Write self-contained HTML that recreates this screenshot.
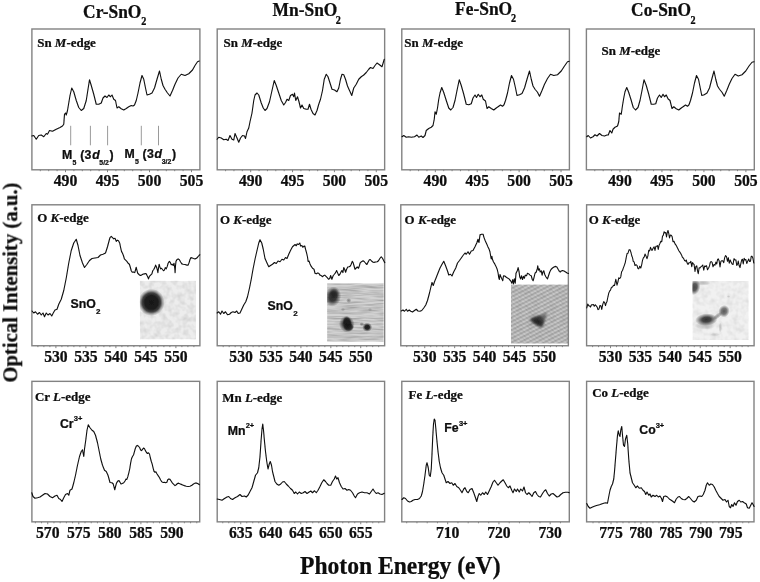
<!DOCTYPE html>
<html><head><meta charset="utf-8"><title>XAS spectra of doped SnO2</title>
<style>
html,body{margin:0;padding:0;background:#fff;}
body{width:760px;height:582px;overflow:hidden;font-family:"Liberation Serif",serif;}
svg{display:block;will-change:transform;}
text{fill:#0a0a0a;stroke:#0a0a0a;stroke-width:0.22px;}
</style></head><body>
<svg width="760" height="582" viewBox="0 0 760 582">
<defs>
<filter id="soft" x="0" y="0" width="760" height="582" filterUnits="userSpaceOnUse"><feGaussianBlur stdDeviation="0.36"/></filter>
<radialGradient id="gd"><stop offset="0" stop-color="#181818"/><stop offset="0.5" stop-color="#181818" stop-opacity="0.98"/><stop offset="0.7" stop-color="#181818" stop-opacity="0.8"/><stop offset="0.85" stop-color="#181818" stop-opacity="0.32"/><stop offset="1" stop-color="#181818" stop-opacity="0"/></radialGradient>
<radialGradient id="gm"><stop offset="0" stop-color="#222" stop-opacity="0.95"/><stop offset="0.45" stop-color="#222" stop-opacity="0.85"/><stop offset="0.75" stop-color="#222" stop-opacity="0.38"/><stop offset="1" stop-color="#222" stop-opacity="0"/></radialGradient>
<radialGradient id="gm2"><stop offset="0" stop-color="#282828" stop-opacity="0.95"/><stop offset="0.4" stop-color="#282828" stop-opacity="0.85"/><stop offset="0.7" stop-color="#282828" stop-opacity="0.42"/><stop offset="1" stop-color="#282828" stop-opacity="0"/></radialGradient>
<radialGradient id="gl"><stop offset="0" stop-color="#303030" stop-opacity="0.5"/><stop offset="0.6" stop-color="#303030" stop-opacity="0.27"/><stop offset="1" stop-color="#303030" stop-opacity="0"/></radialGradient>
<radialGradient id="gl2"><stop offset="0" stop-color="#303030" stop-opacity="0.78"/><stop offset="0.5" stop-color="#303030" stop-opacity="0.6"/><stop offset="1" stop-color="#303030" stop-opacity="0"/></radialGradient>
<filter id="b1" x="-50%" y="-50%" width="200%" height="200%"><feGaussianBlur stdDeviation="1.6"/></filter>
<filter id="b2" x="-50%" y="-50%" width="200%" height="200%"><feGaussianBlur stdDeviation="1.1"/></filter>
<filter id="b3" x="-50%" y="-50%" width="200%" height="200%"><feGaussianBlur stdDeviation="0.8"/></filter>
<filter id="nz" x="0" y="0" width="100%" height="100%">
<feTurbulence type="fractalNoise" baseFrequency="0.18" numOctaves="2" seed="3" result="t"/>
<feColorMatrix in="t" type="matrix" values="0 0 0 0 0  0 0 0 0 0  0 0 0 0 0  0.9 0 0 0 -0.32"/>
</filter>
<filter id="nzh" x="0" y="0" width="100%" height="100%">
<feTurbulence type="fractalNoise" baseFrequency="0.05 0.55" numOctaves="2" seed="5" result="t"/>
<feColorMatrix in="t" type="matrix" values="0 0 0 0 0  0 0 0 0 0  0 0 0 0 0  1.1 0 0 0 -0.38"/>
</filter>
<pattern id="diag" width="3.7" height="3.7" patternUnits="userSpaceOnUse" patternTransform="rotate(-27)">
<rect width="3.7" height="1.7" fill="#000" opacity="0.14"/>
</pattern>
<pattern id="diag2" width="3.1" height="3.1" patternUnits="userSpaceOnUse" patternTransform="rotate(38)">
<rect width="3.1" height="1.3" fill="#000" opacity="0.07"/>
</pattern>
<filter id="b4" x="-5%" y="-5%" width="110%" height="110%"><feGaussianBlur stdDeviation="0.45"/></filter>
<clipPath id="c1"><rect x="139.9" y="280.7" width="56.1" height="58.7"/></clipPath>
<clipPath id="c2"><rect x="327.1" y="283.3" width="56.6" height="58.5"/></clipPath>
<clipPath id="c3"><rect x="511" y="284.4" width="57.2" height="59.2"/></clipPath>
<clipPath id="c4"><rect x="692.4" y="281" width="56.3" height="59.1"/></clipPath>
</defs>
<rect width="760" height="582" fill="#fff"/>
<g filter="url(#soft)">
<g clip-path="url(#c1)">
<rect x="139.9" y="280.7" width="56.1" height="58.7" fill="#ededed"/>
<rect x="139.9" y="280.7" width="56.1" height="58.7" fill="#000" filter="url(#nz)" opacity="0.22"/>
<ellipse cx="151.4" cy="302.4" rx="13.2" ry="13.6" fill="url(#gd)" opacity="1"/>
</g>
<g clip-path="url(#c2)">
<rect x="327.1" y="283.3" width="56.6" height="58.5" fill="#d2d2d2"/>
<rect x="327.1" y="283.3" width="56.6" height="58.5" fill="#000" filter="url(#nzh)" opacity="0.42"/>
<ellipse cx="332.9" cy="296.6" rx="8.2" ry="10.2" fill="url(#gm)" opacity="1" transform="rotate(12 332.9 296.6)"/>
<ellipse cx="334.2" cy="293.6" rx="5" ry="5.5" fill="url(#gm)" opacity="0.7"/>
<ellipse cx="346.8" cy="324.2" rx="7.8" ry="8.4" fill="url(#gm)" opacity="1" transform="rotate(-20 346.8 324.2)"/>
<ellipse cx="347.2" cy="322.6" rx="4.6" ry="6.6" fill="url(#gd)" opacity="0.9" transform="rotate(-10 347.2 322.6)"/>
<ellipse cx="348.6" cy="327" rx="5.4" ry="4.4" fill="url(#gd)" opacity="0.8"/>
<ellipse cx="367.2" cy="327.2" rx="5" ry="4.6" fill="url(#gm)" opacity="1"/>
<ellipse cx="367.2" cy="327.2" rx="3.2" ry="3" fill="url(#gd)" opacity="0.7"/>
<ellipse cx="348.7" cy="300.5" rx="2.6" ry="2.4" fill="url(#gl)" opacity="1"/>
<ellipse cx="361.8" cy="324.2" rx="2.4" ry="2" fill="url(#gl)" opacity="1"/>
<ellipse cx="343" cy="309.5" rx="2.2" ry="2" fill="url(#gl)" opacity="0.5"/>
<ellipse cx="370" cy="309.5" rx="2.2" ry="2" fill="url(#gl)" opacity="0.4"/>
</g>
<g clip-path="url(#c3)">
<rect x="511" y="284.4" width="58" height="60" fill="#c9c9c9"/>
<g filter="url(#b4)"><rect x="503" y="276" width="73" height="75" fill="url(#diag)"/><rect x="503" y="276" width="73" height="75" fill="url(#diag2)"/></g>
<rect x="511" y="284.4" width="58" height="60" fill="#000" filter="url(#nz)" opacity="0.12"/>
<path d="M536,318 L546.8,312.2 L545.6,320 L542,322 Z" fill="#555" opacity="0.75" filter="url(#b2)"/>
<path d="M529.6,319.2 L534,316.8 L540.5,315.4 L544.2,320.5 L543.5,324.5 L541.2,327.4 L537,325.6 L532.5,322.4 Z" fill="#3c3c3c" filter="url(#b2)"/>
<path d="M532,319.8 L538,318.4 L542,322.2 L540.6,325 L535.8,323 Z" fill="#262626" filter="url(#b3)"/>
</g>
<g clip-path="url(#c4)">
<rect x="692.4" y="281" width="56.3" height="59.1" fill="#f1f1f1"/>
<rect x="692.4" y="281" width="56.3" height="59.1" fill="#000" filter="url(#nz)" opacity="0.16"/>
<ellipse cx="694.4" cy="287.2" rx="5.8" ry="8" fill="url(#gm)" opacity="0.85" transform="rotate(15 694.4 287.2)"/>
<ellipse cx="703" cy="283" rx="8" ry="2.6" fill="url(#gl)" opacity="0.55"/>
<ellipse cx="706.4" cy="319.6" rx="11.2" ry="6.2" fill="url(#gm2)" opacity="1" transform="rotate(-4 706.4 319.6)"/>
<ellipse cx="705" cy="325.6" rx="10.5" ry="4.2" fill="url(#gl)" opacity="0.55"/>
<ellipse cx="717.5" cy="316" rx="6" ry="2.4" fill="url(#gl)" opacity="0.95" transform="rotate(-38 717.5 316)"/>
<ellipse cx="724" cy="311.2" rx="5.6" ry="6.2" fill="url(#gl2)" opacity="1" transform="rotate(20 724 311.2)"/>
<ellipse cx="720.3" cy="327.5" rx="1.8" ry="5" fill="url(#gl)" opacity="0.45"/>
<ellipse cx="715" cy="334.5" rx="5" ry="1.8" fill="url(#gl)" opacity="0.3"/>
<ellipse cx="728.5" cy="296.5" rx="2" ry="1.4" fill="url(#gl)" opacity="0.35"/>
</g>
<rect x="31.9" y="29" width="168" height="140.8" fill="none" stroke="#828282" stroke-width="1.4"/>
<rect x="217.2" y="29" width="167.45" height="140.8" fill="none" stroke="#828282" stroke-width="1.4"/>
<rect x="401.8" y="29" width="167.6" height="140.8" fill="none" stroke="#828282" stroke-width="1.4"/>
<rect x="586.4" y="29" width="167.9" height="140.8" fill="none" stroke="#828282" stroke-width="1.4"/>
<rect x="31.9" y="204.8" width="168" height="140.95" fill="none" stroke="#828282" stroke-width="1.4"/>
<rect x="217.2" y="204.8" width="167.45" height="140.95" fill="none" stroke="#828282" stroke-width="1.4"/>
<rect x="400.8" y="204.8" width="167.55" height="140.95" fill="none" stroke="#828282" stroke-width="1.4"/>
<rect x="586.6" y="204.8" width="167.5" height="140.95" fill="none" stroke="#828282" stroke-width="1.4"/>
<rect x="31.9" y="381.35" width="167.8" height="140.5" fill="none" stroke="#828282" stroke-width="1.4"/>
<rect x="217.2" y="381.35" width="167.4" height="140.5" fill="none" stroke="#828282" stroke-width="1.4"/>
<rect x="401.8" y="381.35" width="167.5" height="140.5" fill="none" stroke="#828282" stroke-width="1.4"/>
<rect x="586.6" y="381.35" width="167.4" height="140.5" fill="none" stroke="#828282" stroke-width="1.4"/>
<path d="M40.3,169.8v1.4M48.7,169.8v1.4M57.1,169.8v1.4M65.5,169.8v2.4M73.9,169.8v1.4M82.3,169.8v1.4M90.7,169.8v1.4M99.1,169.8v1.4M107.5,169.8v2.4M115.9,169.8v1.4M124.3,169.8v1.4M132.7,169.8v1.4M141.1,169.8v1.4M149.5,169.8v2.4M157.9,169.8v1.4M166.3,169.8v1.4M174.7,169.8v1.4M183.1,169.8v1.4M191.5,169.8v2.4" stroke="#828282" stroke-width="1" fill="none"/>
<text transform="translate(65.5,186.4) scale(1,1.08)" text-anchor="middle" font-size="15.7" font-family="Liberation Serif, serif" font-weight="bold">490</text>
<text transform="translate(107.5,186.4) scale(1,1.08)" text-anchor="middle" font-size="15.7" font-family="Liberation Serif, serif" font-weight="bold">495</text>
<text transform="translate(149.5,186.4) scale(1,1.08)" text-anchor="middle" font-size="15.7" font-family="Liberation Serif, serif" font-weight="bold">500</text>
<text transform="translate(191.5,186.4) scale(1,1.08)" text-anchor="middle" font-size="15.7" font-family="Liberation Serif, serif" font-weight="bold">505</text>
<path d="M37.9,345.75v1.4M43.9,345.75v1.4M49.9,345.75v1.4M55.9,345.75v2.4M61.9,345.75v1.4M67.9,345.75v1.4M73.9,345.75v1.4M79.9,345.75v1.4M85.9,345.75v2.4M91.9,345.75v1.4M97.9,345.75v1.4M103.9,345.75v1.4M109.9,345.75v1.4M115.9,345.75v2.4M121.9,345.75v1.4M127.9,345.75v1.4M133.9,345.75v1.4M139.9,345.75v1.4M145.9,345.75v2.4M151.9,345.75v1.4M157.9,345.75v1.4M163.9,345.75v1.4M169.9,345.75v1.4M175.9,345.75v2.4M181.9,345.75v1.4M187.9,345.75v1.4M193.9,345.75v1.4" stroke="#828282" stroke-width="1" fill="none"/>
<text transform="translate(55.9,361.9) scale(1,1.08)" text-anchor="middle" font-size="15.7" font-family="Liberation Serif, serif" font-weight="bold">530</text>
<text transform="translate(85.9,361.9) scale(1,1.08)" text-anchor="middle" font-size="15.7" font-family="Liberation Serif, serif" font-weight="bold">535</text>
<text transform="translate(115.9,361.9) scale(1,1.08)" text-anchor="middle" font-size="15.7" font-family="Liberation Serif, serif" font-weight="bold">540</text>
<text transform="translate(145.9,361.9) scale(1,1.08)" text-anchor="middle" font-size="15.7" font-family="Liberation Serif, serif" font-weight="bold">545</text>
<text transform="translate(175.9,361.9) scale(1,1.08)" text-anchor="middle" font-size="15.7" font-family="Liberation Serif, serif" font-weight="bold">550</text>
<path d="M225.57,169.8v1.4M233.94,169.8v1.4M242.32,169.8v1.4M250.69,169.8v2.4M259.06,169.8v1.4M267.44,169.8v1.4M275.81,169.8v1.4M284.18,169.8v1.4M292.55,169.8v2.4M300.92,169.8v1.4M309.3,169.8v1.4M317.67,169.8v1.4M326.04,169.8v1.4M334.41,169.8v2.4M342.79,169.8v1.4M351.16,169.8v1.4M359.53,169.8v1.4M367.9,169.8v1.4M376.28,169.8v2.4" stroke="#828282" stroke-width="1" fill="none"/>
<text transform="translate(250.69,186.4) scale(1,1.08)" text-anchor="middle" font-size="15.7" font-family="Liberation Serif, serif" font-weight="bold">490</text>
<text transform="translate(292.55,186.4) scale(1,1.08)" text-anchor="middle" font-size="15.7" font-family="Liberation Serif, serif" font-weight="bold">495</text>
<text transform="translate(334.41,186.4) scale(1,1.08)" text-anchor="middle" font-size="15.7" font-family="Liberation Serif, serif" font-weight="bold">500</text>
<text transform="translate(376.28,186.4) scale(1,1.08)" text-anchor="middle" font-size="15.7" font-family="Liberation Serif, serif" font-weight="bold">505</text>
<path d="M223.18,345.75v1.4M229.16,345.75v1.4M235.14,345.75v1.4M241.12,345.75v2.4M247.1,345.75v1.4M253.08,345.75v1.4M259.06,345.75v1.4M265.04,345.75v1.4M271.02,345.75v2.4M277,345.75v1.4M282.98,345.75v1.4M288.96,345.75v1.4M294.94,345.75v1.4M300.92,345.75v2.4M306.91,345.75v1.4M312.89,345.75v1.4M318.87,345.75v1.4M324.85,345.75v1.4M330.83,345.75v2.4M336.81,345.75v1.4M342.79,345.75v1.4M348.77,345.75v1.4M354.75,345.75v1.4M360.73,345.75v2.4M366.71,345.75v1.4M372.69,345.75v1.4M378.67,345.75v1.4" stroke="#828282" stroke-width="1" fill="none"/>
<text transform="translate(241.12,361.9) scale(1,1.08)" text-anchor="middle" font-size="15.7" font-family="Liberation Serif, serif" font-weight="bold">530</text>
<text transform="translate(271.02,361.9) scale(1,1.08)" text-anchor="middle" font-size="15.7" font-family="Liberation Serif, serif" font-weight="bold">535</text>
<text transform="translate(300.92,361.9) scale(1,1.08)" text-anchor="middle" font-size="15.7" font-family="Liberation Serif, serif" font-weight="bold">540</text>
<text transform="translate(330.83,361.9) scale(1,1.08)" text-anchor="middle" font-size="15.7" font-family="Liberation Serif, serif" font-weight="bold">545</text>
<text transform="translate(360.73,361.9) scale(1,1.08)" text-anchor="middle" font-size="15.7" font-family="Liberation Serif, serif" font-weight="bold">550</text>
<path d="M410.18,169.8v1.4M418.56,169.8v1.4M426.94,169.8v1.4M435.32,169.8v2.4M443.7,169.8v1.4M452.08,169.8v1.4M460.46,169.8v1.4M468.84,169.8v1.4M477.22,169.8v2.4M485.6,169.8v1.4M493.98,169.8v1.4M502.36,169.8v1.4M510.74,169.8v1.4M519.12,169.8v2.4M527.5,169.8v1.4M535.88,169.8v1.4M544.26,169.8v1.4M552.64,169.8v1.4M561.02,169.8v2.4" stroke="#828282" stroke-width="1" fill="none"/>
<text transform="translate(435.32,186.4) scale(1,1.08)" text-anchor="middle" font-size="15.7" font-family="Liberation Serif, serif" font-weight="bold">490</text>
<text transform="translate(477.22,186.4) scale(1,1.08)" text-anchor="middle" font-size="15.7" font-family="Liberation Serif, serif" font-weight="bold">495</text>
<text transform="translate(519.12,186.4) scale(1,1.08)" text-anchor="middle" font-size="15.7" font-family="Liberation Serif, serif" font-weight="bold">500</text>
<text transform="translate(561.02,186.4) scale(1,1.08)" text-anchor="middle" font-size="15.7" font-family="Liberation Serif, serif" font-weight="bold">505</text>
<path d="M406.78,345.75v1.4M412.77,345.75v1.4M418.75,345.75v1.4M424.74,345.75v2.4M430.72,345.75v1.4M436.7,345.75v1.4M442.69,345.75v1.4M448.67,345.75v1.4M454.66,345.75v2.4M460.64,345.75v1.4M466.62,345.75v1.4M472.61,345.75v1.4M478.59,345.75v1.4M484.58,345.75v2.4M490.56,345.75v1.4M496.54,345.75v1.4M502.53,345.75v1.4M508.51,345.75v1.4M514.49,345.75v2.4M520.48,345.75v1.4M526.46,345.75v1.4M532.45,345.75v1.4M538.43,345.75v1.4M544.41,345.75v2.4M550.4,345.75v1.4M556.38,345.75v1.4M562.37,345.75v1.4" stroke="#828282" stroke-width="1" fill="none"/>
<text transform="translate(424.74,361.9) scale(1,1.08)" text-anchor="middle" font-size="15.7" font-family="Liberation Serif, serif" font-weight="bold">530</text>
<text transform="translate(454.66,361.9) scale(1,1.08)" text-anchor="middle" font-size="15.7" font-family="Liberation Serif, serif" font-weight="bold">535</text>
<text transform="translate(484.58,361.9) scale(1,1.08)" text-anchor="middle" font-size="15.7" font-family="Liberation Serif, serif" font-weight="bold">540</text>
<text transform="translate(514.49,361.9) scale(1,1.08)" text-anchor="middle" font-size="15.7" font-family="Liberation Serif, serif" font-weight="bold">545</text>
<text transform="translate(544.41,361.9) scale(1,1.08)" text-anchor="middle" font-size="15.7" font-family="Liberation Serif, serif" font-weight="bold">550</text>
<path d="M594.79,169.8v1.4M603.19,169.8v1.4M611.58,169.8v1.4M619.98,169.8v2.4M628.38,169.8v1.4M636.77,169.8v1.4M645.16,169.8v1.4M653.56,169.8v1.4M661.95,169.8v2.4M670.35,169.8v1.4M678.75,169.8v1.4M687.14,169.8v1.4M695.53,169.8v1.4M703.93,169.8v2.4M712.32,169.8v1.4M720.72,169.8v1.4M729.12,169.8v1.4M737.51,169.8v1.4M745.9,169.8v2.4" stroke="#828282" stroke-width="1" fill="none"/>
<text transform="translate(619.98,186.4) scale(1,1.08)" text-anchor="middle" font-size="15.7" font-family="Liberation Serif, serif" font-weight="bold">490</text>
<text transform="translate(661.95,186.4) scale(1,1.08)" text-anchor="middle" font-size="15.7" font-family="Liberation Serif, serif" font-weight="bold">495</text>
<text transform="translate(703.93,186.4) scale(1,1.08)" text-anchor="middle" font-size="15.7" font-family="Liberation Serif, serif" font-weight="bold">500</text>
<text transform="translate(745.9,186.4) scale(1,1.08)" text-anchor="middle" font-size="15.7" font-family="Liberation Serif, serif" font-weight="bold">505</text>
<path d="M592.58,345.75v1.4M598.56,345.75v1.4M604.55,345.75v1.4M610.53,345.75v2.4M616.51,345.75v1.4M622.49,345.75v1.4M628.48,345.75v1.4M634.46,345.75v1.4M640.44,345.75v2.4M646.42,345.75v1.4M652.4,345.75v1.4M658.39,345.75v1.4M664.37,345.75v1.4M670.35,345.75v2.4M676.33,345.75v1.4M682.31,345.75v1.4M688.3,345.75v1.4M694.28,345.75v1.4M700.26,345.75v2.4M706.24,345.75v1.4M712.23,345.75v1.4M718.21,345.75v1.4M724.19,345.75v1.4M730.17,345.75v2.4M736.15,345.75v1.4M742.14,345.75v1.4M748.12,345.75v1.4" stroke="#828282" stroke-width="1" fill="none"/>
<text transform="translate(610.53,361.9) scale(1,1.08)" text-anchor="middle" font-size="15.7" font-family="Liberation Serif, serif" font-weight="bold">530</text>
<text transform="translate(640.44,361.9) scale(1,1.08)" text-anchor="middle" font-size="15.7" font-family="Liberation Serif, serif" font-weight="bold">535</text>
<text transform="translate(670.35,361.9) scale(1,1.08)" text-anchor="middle" font-size="15.7" font-family="Liberation Serif, serif" font-weight="bold">540</text>
<text transform="translate(700.26,361.9) scale(1,1.08)" text-anchor="middle" font-size="15.7" font-family="Liberation Serif, serif" font-weight="bold">545</text>
<text transform="translate(730.17,361.9) scale(1,1.08)" text-anchor="middle" font-size="15.7" font-family="Liberation Serif, serif" font-weight="bold">550</text>
<path d="M35.33,521.85v1.4M41.54,521.85v1.4M47.75,521.85v2.4M53.96,521.85v1.4M60.17,521.85v1.4M66.38,521.85v1.4M72.59,521.85v1.4M78.8,521.85v2.4M85.01,521.85v1.4M91.22,521.85v1.4M97.43,521.85v1.4M103.64,521.85v1.4M109.85,521.85v2.4M116.06,521.85v1.4M122.27,521.85v1.4M128.48,521.85v1.4M134.69,521.85v1.4M140.9,521.85v2.4M147.11,521.85v1.4M153.32,521.85v1.4M159.53,521.85v1.4M165.74,521.85v1.4M171.95,521.85v2.4M178.16,521.85v1.4M184.37,521.85v1.4M190.58,521.85v1.4M196.79,521.85v1.4" stroke="#828282" stroke-width="1" fill="none"/>
<text transform="translate(47.75,538) scale(1,1.08)" text-anchor="middle" font-size="15.7" font-family="Liberation Serif, serif" font-weight="bold">570</text>
<text transform="translate(78.8,538) scale(1,1.08)" text-anchor="middle" font-size="15.7" font-family="Liberation Serif, serif" font-weight="bold">575</text>
<text transform="translate(109.85,538) scale(1,1.08)" text-anchor="middle" font-size="15.7" font-family="Liberation Serif, serif" font-weight="bold">580</text>
<text transform="translate(140.9,538) scale(1,1.08)" text-anchor="middle" font-size="15.7" font-family="Liberation Serif, serif" font-weight="bold">585</text>
<text transform="translate(171.95,538) scale(1,1.08)" text-anchor="middle" font-size="15.7" font-family="Liberation Serif, serif" font-weight="bold">590</text>
<path d="M222.75,521.85v1.4M228.75,521.85v1.4M234.75,521.85v1.4M240.75,521.85v2.4M246.75,521.85v1.4M252.75,521.85v1.4M258.75,521.85v1.4M264.75,521.85v1.4M270.75,521.85v2.4M276.75,521.85v1.4M282.75,521.85v1.4M288.75,521.85v1.4M294.75,521.85v1.4M300.75,521.85v2.4M306.75,521.85v1.4M312.75,521.85v1.4M318.75,521.85v1.4M324.75,521.85v1.4M330.75,521.85v2.4M336.75,521.85v1.4M342.75,521.85v1.4M348.75,521.85v1.4M354.75,521.85v1.4M360.75,521.85v2.4M366.75,521.85v1.4M372.75,521.85v1.4M378.75,521.85v1.4" stroke="#828282" stroke-width="1" fill="none"/>
<text transform="translate(240.75,538) scale(1,1.08)" text-anchor="middle" font-size="15.7" font-family="Liberation Serif, serif" font-weight="bold">635</text>
<text transform="translate(270.75,538) scale(1,1.08)" text-anchor="middle" font-size="15.7" font-family="Liberation Serif, serif" font-weight="bold">640</text>
<text transform="translate(300.75,538) scale(1,1.08)" text-anchor="middle" font-size="15.7" font-family="Liberation Serif, serif" font-weight="bold">645</text>
<text transform="translate(330.75,538) scale(1,1.08)" text-anchor="middle" font-size="15.7" font-family="Liberation Serif, serif" font-weight="bold">650</text>
<text transform="translate(360.75,538) scale(1,1.08)" text-anchor="middle" font-size="15.7" font-family="Liberation Serif, serif" font-weight="bold">655</text>
<path d="M406.7,521.85v1.4M416.95,521.85v1.4M427.2,521.85v1.4M437.45,521.85v1.4M447.7,521.85v2.4M457.95,521.85v1.4M468.2,521.85v1.4M478.45,521.85v1.4M488.7,521.85v1.4M498.95,521.85v2.4M509.2,521.85v1.4M519.45,521.85v1.4M529.7,521.85v1.4M539.95,521.85v1.4M550.2,521.85v2.4M560.45,521.85v1.4" stroke="#828282" stroke-width="1" fill="none"/>
<text transform="translate(447.7,538) scale(1,1.08)" text-anchor="middle" font-size="15.7" font-family="Liberation Serif, serif" font-weight="bold">710</text>
<text transform="translate(498.95,538) scale(1,1.08)" text-anchor="middle" font-size="15.7" font-family="Liberation Serif, serif" font-weight="bold">720</text>
<text transform="translate(550.2,538) scale(1,1.08)" text-anchor="middle" font-size="15.7" font-family="Liberation Serif, serif" font-weight="bold">730</text>
<path d="M593.03,521.85v1.4M599.02,521.85v1.4M605.01,521.85v1.4M611,521.85v2.4M616.99,521.85v1.4M622.98,521.85v1.4M628.97,521.85v1.4M634.96,521.85v1.4M640.95,521.85v2.4M646.94,521.85v1.4M652.93,521.85v1.4M658.92,521.85v1.4M664.91,521.85v1.4M670.9,521.85v2.4M676.89,521.85v1.4M682.88,521.85v1.4M688.87,521.85v1.4M694.86,521.85v1.4M700.85,521.85v2.4M706.84,521.85v1.4M712.83,521.85v1.4M718.82,521.85v1.4M724.81,521.85v1.4M730.8,521.85v2.4M736.79,521.85v1.4M742.78,521.85v1.4M748.77,521.85v1.4" stroke="#828282" stroke-width="1" fill="none"/>
<text transform="translate(611,538) scale(1,1.08)" text-anchor="middle" font-size="15.7" font-family="Liberation Serif, serif" font-weight="bold">775</text>
<text transform="translate(640.95,538) scale(1,1.08)" text-anchor="middle" font-size="15.7" font-family="Liberation Serif, serif" font-weight="bold">780</text>
<text transform="translate(670.9,538) scale(1,1.08)" text-anchor="middle" font-size="15.7" font-family="Liberation Serif, serif" font-weight="bold">785</text>
<text transform="translate(700.85,538) scale(1,1.08)" text-anchor="middle" font-size="15.7" font-family="Liberation Serif, serif" font-weight="bold">790</text>
<text transform="translate(730.8,538) scale(1,1.08)" text-anchor="middle" font-size="15.7" font-family="Liberation Serif, serif" font-weight="bold">795</text>
<path d="M31.8,136 L33.75,135.5 L36.25,139.25 L38.75,135.5 L41.25,135 L43.75,136.75 L46.25,133.5 L47.5,134.25 L49.5,130.5 L52.5,131.25 L56.25,129.25 L60,127.5 L62.5,126 L63.75,124.25 L64.5,114.25 L65.5,113 L66.25,115 L67.5,110.5 L68.75,103 L70,95.5 L71.75,88 L73.75,91.75 L76.25,100.5 L78.75,107.5 L81.25,110.5 L83.75,108.5 L86.25,100.5 L88,89.25 L89.5,79.75 L91.25,85.5 L93.75,94.25 L96.25,104.25 L98.75,104.25 L101.25,103 L103,98 L105,96 L107,97.5 L108.75,95 L110.5,96.75 L112,95 L113.75,99.25 L115.5,100.5 L117,108 L118.75,106.75 L121.25,108.75 L123.75,110 L126.25,108.5 L128.75,106.75 L131.25,105.5 L133,106 L134.5,105 L136.25,100.5 L138,93 L140,83 L142,75.5 L143.75,79.25 L145.5,88 L147,95 L149.5,94.25 L152,93 L154.5,88 L157,79.25 L159.5,71 L161.25,79.25 L163,85.5 L165,89.25 L167.5,93 L170,96 L172.5,90.5 L175,84.25 L178,78 L181.25,74.25 L185,75.5 L188.75,73.75 L192.5,70 L195,65.5 L197.5,61.75 L199.25,61" fill="none" stroke="#0c0c0c" stroke-width="1.1" stroke-linejoin="round" stroke-linecap="round"/>
<path d="M217.1,139.25 L218.75,137.25 L221.25,138 L223.75,139.75 L226.25,139.25 L228,140.5 L230,135.5 L232,139.25 L233.75,140 L235,133.5 L237,138 L238.75,142.25 L240.5,138 L242.5,135.5 L244.5,136 L245.5,138.5 L247,131.75 L248.75,128 L250,121.75 L252,113 L253.75,100.5 L255,95 L257,93 L258.75,95 L261.25,103 L263.25,108 L265,110.5 L267,108.5 L269.5,101.75 L272,90.5 L274.25,80.5 L276.25,85.5 L278.75,93 L281.25,100.5 L283.75,105 L285.5,102.5 L287,99.25 L288.75,100.5 L290.5,95.5 L292.5,94.25 L293.75,96.75 L294.5,93 L295.75,100.5 L297.5,96.75 L299,101.75 L300.5,108 L302,105 L303.75,108.5 L306.25,109.25 L308,109.25 L309.5,104.25 L311,109.25 L313,113.5 L315,115 L317,110.5 L318.75,104.25 L320.5,99.25 L322.5,90.5 L324.25,79.25 L326.25,74.25 L328,76.75 L330,83 L332,89.25 L334.5,90 L337,91.75 L338.75,88 L340.5,79.25 L342,74.25 L343.75,74.75 L345.5,79.25 L347.5,86 L349.5,90.5 L351.75,95.5 L353.75,88 L356.25,84.25 L358.75,79.25 L361.25,76.75 L363.75,75 L366.25,72.5 L368.75,69.25 L370.5,67.5 L373,68.5 L375,65.5 L377,63 L379.5,64.75 L382,66.75 L384.25,59.25" fill="none" stroke="#0c0c0c" stroke-width="1.1" stroke-linejoin="round" stroke-linecap="round"/>
<path d="M402,136.75 L403.75,135.5 L406.25,137.25 L408.75,136.75 L411.25,137.25 L414.5,136.75 L417,135 L418.75,137.25 L421.25,136 L423,137.5 L425,135.5 L426.25,130.5 L428.75,128.5 L431.25,127.25 L433,125.5 L434.25,119.25 L435,111.75 L436.25,114.25 L437.5,108 L438.75,99.25 L440,93 L441.75,87.5 L443.75,92.5 L446.25,100.5 L448.75,108 L450.75,110 L453,107.5 L455,100.5 L457,90.5 L459.25,79.75 L461.25,85.5 L463.75,94.25 L466.25,104.25 L468.75,104.75 L471.25,103.75 L473,98 L475,95 L476.5,97.5 L478.25,94.25 L480,96.75 L481.75,95 L483.25,99.25 L485.5,101 L487,108.5 L488.75,106.75 L491.25,108.5 L493.75,110 L496.25,108 L498.75,106.25 L500.5,105 L502.5,106.25 L504,104.75 L505.5,100.5 L507.5,93 L509.5,83 L511.5,75.5 L513.5,79.25 L515.5,88 L517,95.5 L519.5,94.75 L522,93.5 L524.5,88 L527,79.25 L529.5,71 L531.25,79.25 L533,86 L535,89.25 L537.5,92.25 L539.5,96.25 L542,90.5 L544.5,84.25 L547.5,78.5 L550.5,74.25 L553.75,75.5 L557.5,74.75 L561.25,71 L564.5,66 L567.5,61.75 L569.25,61.25" fill="none" stroke="#0c0c0c" stroke-width="1.1" stroke-linejoin="round" stroke-linecap="round"/>
<path d="M586.75,136.75 L588.25,135.5 L590.5,138 L593,136.75 L595,134.75 L597,136 L599.5,133.5 L602,135.5 L604.5,136 L607,135 L608.25,135 L610,130.5 L611.75,133 L613,129.25 L615,127.25 L617.5,126 L618.75,121.75 L619.5,113 L621.25,114.25 L622.5,105.5 L623.75,98 L625,91.75 L626.75,87.5 L628.75,92.5 L631.25,100.5 L633.25,107.5 L635.5,110 L638,107.5 L640,100.5 L642,90.5 L644,79.75 L646.25,85.5 L648.75,94.25 L651.25,104.25 L653.75,104.25 L655.75,103.75 L657.5,98 L659.5,95 L661.25,97.5 L663,94.25 L664.5,96.75 L666.25,95 L668,98.75 L670,100.5 L672,108.5 L673.75,106.75 L676.25,108.75 L678.75,110 L681.25,108 L683.75,106.25 L685.5,105 L687.5,106.25 L689,104.75 L690.5,100.5 L692.5,93 L694.5,83 L696.5,75.5 L698.5,79.25 L700,86.75 L701.75,95.5 L704.25,94.75 L707,93 L709.5,88 L711.75,79.25 L714,71 L715.75,79.25 L717.5,86 L719.5,89.25 L722,92.25 L724.25,96.25 L726.75,90.5 L729.25,84.25 L732,78.5 L735,74.25 L738.25,76 L742,74.75 L745.75,71 L749,66 L752,62.25 L754,61.75" fill="none" stroke="#0c0c0c" stroke-width="1.1" stroke-linejoin="round" stroke-linecap="round"/>
<path d="M32,311 L33.75,313 L35.5,311.75 L37.5,314.25 L39.5,312.5 L41.25,315 L43,313 L44.5,316.75 L46.25,313 L48,315 L50,313.5 L51.75,316 L53.25,313 L55,310 L57,309.25 L58.75,304.25 L61.25,299.25 L63.75,290.5 L66.25,278 L68.75,263 L71.25,250.5 L73.75,243 L76.25,239.25 L78,245.5 L80,255.5 L82.5,263 L84.5,267.5 L87,264.25 L89.5,260.5 L92,258.5 L95,258 L98,257.5 L100.5,255 L103,254.25 L105.5,253 L107.5,246.75 L109.5,239.25 L110,237.62 L111.25,236.38 L112.5,237.62 L113.75,238.88 L115,238.25 L116.25,241.38 L117.25,240.12 L118.5,240.75 L119.75,243.25 L120.62,247.62 L121.5,251.38 L122.5,253.25 L123.5,255.75 L124.38,258.88 L125.62,260.12 L126.88,261.38 L128.12,263.25 L129.38,264.25 L130.25,267 L131.25,270.75 L132.25,272.25 L133.5,272 L134.75,272.62 L135.62,269.5 L136.25,267.25 L136.88,270.12 L137.75,273.25 L139,274.5 L140.25,275.5 L141.5,275.12 L142.75,274.25 L144.38,273.88 L146,273.5 L146.88,275.12 L147.75,277 L148.5,278.88 L149.38,276.38 L150.62,275.12 L151.88,273.88 L152.75,270.75 L153.75,269.5 L154.75,267.62 L155.62,265.12 L156.5,267 L157.25,269.5 L157.88,272.62 L158.5,268.25 L159.12,264.25 L159.75,266.38 L160.62,268.88 L161.5,268.25 L162.5,269.5 L163.5,270.75 L164.38,270.12 L165.25,267.62 L166.25,268.88 L167.25,266.38 L168.12,263.25 L169.38,261.38 L170.38,262.62 L171.25,264.75 L172.25,264.25 L173.12,265.5 L174,263.25 L174.75,268.25 L175.12,272.62 L175.5,265.75 L176,261.38 L176.88,259.75 L178.12,258.88 L179.38,259.75 L180.62,262 L181.88,263.88 L183.12,264.25 L185,264.5 L186.88,265.12 L188.12,265.12 L189.12,262.62 L190,259.5 L191,257.62 L192.25,258 L193.5,258.5 L195,258.88 L196.5,258.25 L197.75,257 L199,255.5 L199.75,254.75" fill="none" stroke="#0c0c0c" stroke-width="1.1" stroke-linejoin="round" stroke-linecap="round"/>
<path d="M217.1,313 L218.75,311.75 L220.5,314.25 L222,311 L223.75,313.5 L225.5,311.75 L227.5,314.75 L229.5,314.25 L231.25,312.5 L233,311.75 L235,312.5 L236.75,311 L238.25,313.5 L240,313 L241.75,309.25 L243.75,305 L245.75,301.75 L247.5,296.75 L249.5,288 L251.25,279.25 L253,269.25 L255,259.25 L257,250.5 L258.75,243 L260,239.75 L261.75,243 L263.25,249.25 L265,258.5 L267,263 L268.75,266.75 L270.5,265.5 L272.5,264.25 L274.5,262.5 L276.25,263.5 L278,261 L280,261.75 L282,259.25 L283.75,260 L285.5,257.5 L287,258.5 L288.75,254.25 L290.5,250.5 L292.5,246.75 L294.5,245 L295,244.5 L296.25,245.75 L297.25,243.88 L298.5,244.5 L299.75,243 L300.62,246 L301.88,245.5 L302.75,247.25 L303.75,246.38 L304.75,246 L305.62,249.5 L306.5,252.62 L307.5,257 L308.12,261.38 L309,261 L310,263.88 L311.25,266.38 L312.5,268.25 L314,269.25 L315,273.25 L316.25,273.88 L317.5,273 L318.75,273.25 L320,275.12 L321.25,275.5 L322.25,276.75 L323.5,275.75 L324.75,275.12 L326,276.38 L327.25,277.62 L328.5,279.25 L329.75,278.5 L330.62,275.5 L331.88,279.25 L333.12,275.75 L334.38,274.25 L335.62,272.62 L336.62,270.5 L337.5,272.62 L338.75,275.5 L339.75,274.5 L341,272 L341.88,270.5 L342.88,272.62 L343.75,267.62 L344.75,269.5 L345.62,272.25 L346.5,269.5 L347.75,267 L349,266.75 L350,266.38 L351,264.75 L352.25,261.38 L353.12,262.62 L354,265.75 L355,269.25 L356,268.25 L357.25,267 L358.5,268.25 L359.38,265.75 L360.25,262.62 L361.5,261.75 L363.12,260.75 L364.38,261.75 L365.62,263.25 L366.88,264.5 L368.12,262 L369.38,259.75 L370.25,259.5 L371.5,261 L372.75,262 L374,262.38 L375.62,262 L377.25,261.75 L378.5,260.75 L380,258.25 L381.25,256.75 L382.5,258.25 L383.75,260.75 L384.75,262.62" fill="none" stroke="#0c0c0c" stroke-width="1.1" stroke-linejoin="round" stroke-linecap="round"/>
<path d="M401.25,311 L403,310 L404.5,311.25 L406.25,309.25 L407.5,311.25 L409.25,310 L410.75,311.25 L412.5,312 L414.5,310.5 L416.25,309.25 L418,311 L420,311.25 L421.75,310.5 L423.75,308 L425.75,305 L427.5,300.5 L429.5,293 L431.25,285.5 L432,282.5 L433.25,285.5 L434.5,281.75 L436.25,277.5 L438,273 L440,268 L442,264.25 L443.75,261.25 L445.5,265.5 L447.5,271 L448.75,275 L450.5,274.25 L452,276 L453.75,271.75 L455.75,268 L457.5,263 L459.5,260.5 L461.25,258 L463,255.5 L465,253 L466.25,254.25 L468,251.75 L469.5,254.25 L471.25,251 L473,250.5 L475,246.75 L476.75,243 L478,239.25 L479,242.5 L480,234.88 L481.5,234.25 L483.12,234.25 L484,237.62 L485.25,240.75 L486.5,243.5 L487.75,246.38 L489,248.88 L490,252 L490.62,255.75 L491.25,258.88 L491.88,256.38 L492.5,259.5 L493.5,262 L494.75,263.88 L496,266.38 L497.25,269.5 L498.12,273.25 L498.75,277.62 L499.38,279.5 L500,274.5 L501,277 L501.88,278.88 L502.75,280.75 L503.5,275.75 L504.75,276 L506,277 L507.5,278 L509,278.88 L510,280.12 L511,281.38 L511.88,283.25 L512.75,279.5 L513.5,283.88 L514.38,278.88 L515.25,283.25 L516,273.25 L517.25,270.75 L518.12,267.62 L519,271.38 L519.75,277 L520.62,278.88 L521.5,275.75 L522.5,279.5 L523.5,276.38 L524.38,278.25 L525.25,275.12 L526.5,275.75 L527.5,273.25 L528.75,273.88 L530,275.12 L531.25,275.75 L532.25,279.5 L533.12,280.75 L534,277.62 L535,273.25 L536.25,272 L537.25,268.88 L537.75,265.75 L538.5,270.12 L539.38,268.88 L540.25,272 L541.25,270.75 L542.12,275.12 L542.88,272 L543.75,270.75 L544.75,274.5 L546,277 L547.5,278.88 L548.5,275.75 L549.75,272 L551,269.5 L552.5,268 L554,267 L555.62,266.38 L556.88,267 L558.12,269.25 L559.38,271.38 L560.25,272 L561.25,271 L562.5,270.5 L564,271 L565.62,272 L567.12,273 L568.45,273.5" fill="none" stroke="#0c0c0c" stroke-width="1.1" stroke-linejoin="round" stroke-linecap="round"/>
<path d="M31.8,492.75 L33,496.5 L35,498.25 L37.5,497.75 L40,497 L42.5,495.25 L45,493.5 L47.5,494 L50,496.5 L52.5,497.75 L55,496 L57,495.25 L58.75,498.5 L60.5,499.5 L62,501.5 L63.75,497.75 L65.5,494.5 L67.5,493.5 L68.75,495.25 L70,490.25 L72,489 L73.75,482.75 L75.5,475.25 L77.5,465.25 L79.5,456.5 L81.25,451.5 L82.5,449.75 L83.75,456.5 L84.5,449 L85.75,440.25 L87,430.25 L88.25,424.75 L90,427.75 L92,430.25 L93.75,431.5 L95.5,435.25 L97.5,442.75 L99.25,451.5 L100.75,459 L102.5,465.25 L104.5,470.25 L106.25,471.5 L108,475.25 L110,482.5 L111.88,482.75 L113.12,483.75 L114,486.88 L114.75,489.75 L115.62,486.25 L116.5,483.12 L117.75,481 L119,480.62 L120,482.25 L121,484 L122.25,483.5 L123.75,482.75 L125,481 L126,479 L126.88,479.38 L127.75,476.88 L128.75,473.12 L129.75,468.75 L130.62,463.12 L131.5,458.75 L132.5,456.5 L133.5,455 L134.38,451.88 L135.25,448.75 L136.25,446.25 L137.25,445.38 L138.5,446.25 L139.75,447.75 L140.62,450 L141.5,450.62 L142.5,449.38 L143.5,448.12 L144.38,448.5 L145.38,450.62 L146.5,452.5 L147.5,453.5 L148.5,452.75 L149.5,454 L150.25,457.5 L151.25,461.25 L152.25,464.38 L153.12,468.12 L154,471.25 L155,472.25 L156,471.88 L156.88,473.75 L158.12,475.62 L159.38,477.5 L160.62,480 L161.88,481.88 L163.12,482.5 L164.38,482.25 L165.62,482.75 L166.88,482.25 L167.75,479.75 L168.75,479 L170,479.38 L171.25,481.25 L172.5,483.12 L173.75,484.38 L175,485.62 L176.25,484.75 L177.5,483.5 L178.5,483.12 L179.75,483.75 L181.25,484.38 L182.75,485 L184.38,485.62 L186.25,486.25 L188.12,486.5 L190,486.25 L191.88,485.25 L193.5,484 L195,483.12 L196.5,483.12 L198.12,483.75 L199.38,484.75" fill="none" stroke="#0c0c0c" stroke-width="1.1" stroke-linejoin="round" stroke-linecap="round"/>
<path d="M217.1,499 L219.5,499.5 L222,500.25 L224.5,498.5 L227,497 L228.75,496.5 L230.5,498.5 L232.5,499.5 L235,497.75 L237.5,496.5 L240,494.5 L242,496.5 L244.5,496 L246.25,497 L248,495.25 L250,491.5 L252,487.75 L253.75,481.5 L255.5,475.25 L257.5,472.75 L258.75,467.75 L260,456.5 L261,441.5 L262,429 L262.75,424 L263.5,430.25 L264.5,441.5 L265.5,451.5 L266.75,461.5 L268,469 L269.25,464 L270.25,461.5 L271.5,465.25 L272.5,471.5 L273.75,476.5 L275,481.5 L276.75,484 L278.75,485.25 L280.75,484 L282.5,482 L284.25,481.5 L286.25,484 L288.25,486 L290.5,488.5 L292.5,490.25 L294.25,493.5 L295.75,492 L297.5,494 L299.25,492 L301.25,493.5 L303.25,492.75 L305,491.5 L307,493.5 L308.75,492.25 L310.75,491 L312.5,492.75 L314.5,490.75 L316.25,492.75 L318,490.25 L320,486.5 L321.75,482.75 L323.75,479.75 L325.5,481.5 L327,483.5 L328.75,485.25 L330.75,485.25 L332.5,481.5 L334.25,479 L335.5,476 L336.75,479 L338,477.75 L339.5,482.75 L341.25,486.5 L343,489 L345,488.5 L347,490.25 L348.75,489.5 L350.5,490.25 L352.5,492.75 L354.25,496 L355.5,497.75 L357.5,494 L359.5,492.75 L362,492 L364.5,492.75 L367,492.75 L369.5,494 L371.25,491.5 L373,489 L374.5,491.5 L376.25,493.5 L378,492.75 L380,494 L382,494.5 L384.25,493.25" fill="none" stroke="#0c0c0c" stroke-width="1.1" stroke-linejoin="round" stroke-linecap="round"/>
<path d="M402,499.5 L403.75,497.75 L405.5,498.5 L407.5,501 L409.5,502 L411.25,501.5 L413,500.25 L415,499.5 L417.5,499.5 L419.5,498.5 L421.25,496 L422.5,491.5 L423.75,484 L425,475.25 L426.25,465.25 L427,462.75 L428.25,467.75 L429.25,475.25 L430.25,476.5 L431.25,469 L432,454 L432.75,436.5 L433.5,424 L434.25,419 L435,420.25 L435.75,427.75 L436.75,439 L438,451.5 L439.25,461.5 L440.5,467.75 L442,472.75 L443.75,475.25 L445,479 L446.25,482.75 L448,481.5 L450,483.5 L451.75,482.75 L453.25,485.25 L455,483.5 L456.75,486.5 L458.75,487.75 L460.5,490.25 L462,492.75 L463.75,489 L465,487.75 L466.75,491.5 L468.25,492.75 L470,489.5 L472,488.5 L473.75,492.75 L475.5,497.75 L476.75,501.5 L478,496.5 L479.25,493.5 L480.75,495.25 L482.5,492.75 L484.25,494.5 L485.75,492 L487.5,494.5 L489.5,490.25 L491.25,486.5 L493,482 L494.5,480.25 L496.25,482.75 L498,485.25 L500,482.75 L501.75,481 L503.25,479.75 L505,482.75 L506.75,486 L508.25,487.75 L510,486 L511.75,490.25 L513,492.75 L514.5,489 L516.25,491.5 L517.5,489 L519.25,492 L520.75,489 L522.5,491 L524,487 L525.5,492.75 L527,494.5 L528.75,492.75 L530.5,494.5 L532,496.5 L533.75,492.75 L535.5,491.5 L537,494.5 L538.75,496.5 L540.5,497 L542.5,493.5 L544.25,491 L545.75,489.75 L547.5,493.5 L549.25,496 L551.25,494 L553,493.5 L555,495.25 L557,497 L558.75,496.5 L560.75,494.5 L563,492.75 L565.5,492.25 L568,492.25 L569.25,492.75" fill="none" stroke="#0c0c0c" stroke-width="1.1" stroke-linejoin="round" stroke-linecap="round"/>
<path d="M586.75,503.5 L588.25,506.5 L590,508.25 L592,507.25 L593.75,506.5 L595.75,505.75 L597.5,505.25 L599.5,504.75 L601.5,504 L603.75,503.25 L605.75,502.75 L607.5,503.25 L608.75,496.5 L610,490.25 L611.25,486.5 L612.5,484 L613.75,479 L614.5,471.5 L615.5,459 L616.5,446.5 L617.5,435.25 L618.25,430.75 L619.25,435.25 L620,436.5 L620.75,430.25 L621.75,426.5 L622.5,435.25 L623.5,445.25 L624.5,446.5 L625.5,439 L626.75,435.25 L627.75,444 L628.75,459 L630,472.75 L631.25,477.75 L632.5,482.75 L634.25,485.25 L635.75,487.75 L637.5,486 L639.25,488.25 L641.25,487.75 L643,490.25 L644.5,491.5 L645.75,494.5 L647,492 L648.75,495.25 L650,494 L651.25,497 L653,495.25 L655,496.5 L656.75,495.25 L658.25,497 L660,496 L661.5,498.5 L662.5,501.5 L663.75,496.5 L665.5,496 L667.5,497 L669.25,499 L671.25,500.25 L673,501.5 L674.5,502.75 L676.25,499 L678,497 L679.5,496.5 L681.25,498.5 L683,499.5 L685,499.75 L686.75,498.5 L688.75,496.5 L690.5,498.5 L692.5,501 L694.25,502 L696.25,500.25 L698,496.5 L700,496 L701.75,496.5 L703.25,494.5 L705,490.25 L706.25,485.25 L707.5,482.75 L709.25,485.25 L710.75,484 L712.5,484.5 L714.25,487 L715.75,490.25 L717.5,493.5 L719.25,496.5 L721.25,498.5 L723,500.25 L725,499.5 L726.5,502 L728,500.25 L729.25,506.5 L730.5,507.75 L731.75,504.5 L733,506.5 L734.5,502.75 L736,505.25 L737.5,501.5 L739.25,500.25 L740.75,502 L742.5,501.5 L744.25,502.75 L746.25,504 L747.5,507.75 L749.25,508.25 L750.75,505.25 L752,502.75 L753.25,504.75 L754.1,506.5" fill="none" stroke="#0c0c0c" stroke-width="1.1" stroke-linejoin="round" stroke-linecap="round"/>
<path d="M586.75,307.92 L587.75,304.07 L588.75,305.65 L589.62,305.94 L590.5,307.05 L591.5,304.76 L592.5,304.79 L593.38,304.54 L594.25,306.25 L595.25,304.73 L596.25,305.93 L597.12,306.97 L598,309.64 L599,308.96 L600,305.5 L600.88,305.66 L601.75,309.45 L602.75,304.41 L603.75,301.58 L604.62,302.54 L605.5,305.61 L606.25,302.94 L607,301.44 L607.88,297.01 L608.75,293.16 L609.62,291.13 L610.5,290.09 L611.5,287.16 L612.5,287.05 L613.5,285.25 L614.5,285.55 L615.75,279.23 L617,285.21 L617.88,282.03 L618.75,277.81 L619.75,278.56 L620.75,276.93 L621.62,271.7 L622.5,270.46 L623.38,267.93 L624.25,265.57 L625.25,262.56 L626.25,257.34 L627.12,253.48 L628,253.15 L629,249.88 L630,249.7 L630.88,252.16 L631.75,255.75 L632.5,257.66 L633.25,261.41 L634.12,261.85 L635,265.53 L636,264.74 L637,265.36 L637.88,268.48 L638.75,268.89 L639.75,266.19 L640.75,267.98 L641.62,265.03 L642.5,260.45 L643.38,257.82 L644.25,256.81 L645,254.07 L645.75,255.41 L647,258.65 L647.88,255.91 L648.75,250.26 L649.62,250.9 L650.5,247.34 L651.25,249.3 L652,250.42 L653.25,247.98 L654.12,246.89 L655,250.44 L655.88,246.25 L656.75,246.34 L657.5,245.64 L658.25,249.43 L659.12,245.16 L660,243.33 L660.88,241.29 L661.75,241.77 L662.5,236.13 L663.25,235.3 L664.12,231.72 L665,233.05 L665.75,232.52 L666.5,236.94 L667.25,232.73 L668,230.46 L668.75,233.42 L669.5,237.89 L670.38,235.06 L671.25,235.22 L672.12,236.61 L673,241.71 L674,241.23 L675,243.82 L676,245.07 L677,246.9 L678,248.97 L679,251.01 L679.88,252.15 L680.75,253.46 L681.62,255.15 L682.5,257.46 L683.5,258.27 L684.5,260.37 L685.38,261.24 L686.25,260 L687.12,263.03 L688,264.52 L689,262.65 L690,262.76 L690.88,261.41 L691.75,266.66 L692.5,262.65 L693.25,263.62 L694.12,264.68 L695,271.49 L695.88,266.34 L696.75,265.85 L697.5,270.7 L698.25,273.62 L699.12,267.79 L700,267.94 L700.88,266.79 L701.75,266.09 L702.75,264.99 L703.75,270.1 L704.62,266.06 L705.5,266.47 L706.5,265.69 L707.5,269.78 L708.5,268.31 L709.5,265.92 L710.38,262.04 L711.25,261.61 L712.12,262.33 L713,266.83 L714,264.48 L715,265.17 L715.88,262.1 L716.75,264.03 L717.5,259.67 L718.25,258.93 L719.12,260.75 L720,266.88 L720.88,261.32 L721.75,260.75 L722.75,260.71 L723.75,262.64 L724.62,257.84 L725.5,255.57 L726.5,256.71 L727.5,261.31 L728.38,257.73 L729.25,263.2 L730.25,259.92 L731.25,262.57 L732.12,264.08 L733,264.55 L734,258.68 L735,260.06 L735.88,259.9 L736.75,265.54 L737.5,264.32 L738.25,261.12 L739.12,265.54 L740,267.64 L740.88,263.42 L741.75,259.75 L742.5,259.3 L743.25,264.01 L744.12,258.25 L745,260.04 L745.88,259.58 L746.75,263.49 L747.75,261.14 L748.75,259.06 L749.62,261.54 L750.5,261.15 L751.25,256.28 L752,256.29 L752.88,258 L753.75,263" fill="none" stroke="#0c0c0c" stroke-width="1.05" stroke-linejoin="round" stroke-linecap="round"/>
<line x1="70.7" y1="125.8" x2="70.7" y2="145.3" stroke="#9a9a9a" stroke-width="1"/>
<line x1="90.4" y1="125.8" x2="90.4" y2="145.3" stroke="#9a9a9a" stroke-width="1"/>
<line x1="107.6" y1="125.8" x2="107.6" y2="145.3" stroke="#9a9a9a" stroke-width="1"/>
<line x1="141.3" y1="125.8" x2="141.3" y2="145.3" stroke="#9a9a9a" stroke-width="1"/>
<line x1="158.5" y1="125.8" x2="158.5" y2="145.3" stroke="#9a9a9a" stroke-width="1"/>
<text transform="translate(83.1,17.5) scale(1.030,1.070)" font-size="16.9" font-family="Liberation Serif, serif" font-weight="bold" >Cr-SnO</text>
<text transform="translate(141.3,24.8) scale(0.950,1.120)" font-size="10.7" font-family="Liberation Serif, serif" font-weight="bold" >2</text>
<text transform="translate(272.6,16.4) scale(1.030,1.070)" font-size="16.9" font-family="Liberation Serif, serif" font-weight="bold" >Mn-SnO</text>
<text transform="translate(335.7,23.7) scale(0.950,1.120)" font-size="10.7" font-family="Liberation Serif, serif" font-weight="bold" >2</text>
<text transform="translate(455.1,14.9) scale(1.030,1.070)" font-size="16.9" font-family="Liberation Serif, serif" font-weight="bold" >Fe-SnO</text>
<text transform="translate(511.1,22.2) scale(0.950,1.120)" font-size="10.7" font-family="Liberation Serif, serif" font-weight="bold" >2</text>
<text transform="translate(631.1,16.4) scale(1.030,1.070)" font-size="16.9" font-family="Liberation Serif, serif" font-weight="bold" >Co-SnO</text>
<text transform="translate(690.5,23.7) scale(0.950,1.120)" font-size="10.7" font-family="Liberation Serif, serif" font-weight="bold" >2</text>
<text transform="translate(37.2,47.4) scale(1.005,1.01)" font-size="12.9" font-family="Liberation Serif, serif" font-weight="bold">Sn <tspan font-style="italic">M</tspan>-edge</text>
<text transform="translate(223.5,47.1) scale(1.005,1.01)" font-size="12.9" font-family="Liberation Serif, serif" font-weight="bold">Sn <tspan font-style="italic">M</tspan>-edge</text>
<text transform="translate(404.3,47.1) scale(1.005,1.01)" font-size="12.9" font-family="Liberation Serif, serif" font-weight="bold">Sn <tspan font-style="italic">M</tspan>-edge</text>
<text transform="translate(601.5,55.3) scale(1.005,1.01)" font-size="12.9" font-family="Liberation Serif, serif" font-weight="bold">Sn <tspan font-style="italic">M</tspan>-edge</text>
<text transform="translate(37.2,222.4) scale(1.005,1.01)" font-size="12.9" font-family="Liberation Serif, serif" font-weight="bold">O <tspan font-style="italic">K</tspan>-edge</text>
<text transform="translate(220,224.4) scale(1.005,1.01)" font-size="12.9" font-family="Liberation Serif, serif" font-weight="bold">O <tspan font-style="italic">K</tspan>-edge</text>
<text transform="translate(404.6,223.5) scale(1.005,1.01)" font-size="12.9" font-family="Liberation Serif, serif" font-weight="bold">O <tspan font-style="italic">K</tspan>-edge</text>
<text transform="translate(588.7,224.1) scale(1.005,1.01)" font-size="12.9" font-family="Liberation Serif, serif" font-weight="bold">O <tspan font-style="italic">K</tspan>-edge</text>
<text transform="translate(35,401.1) scale(1.005,1.01)" font-size="12.9" font-family="Liberation Serif, serif" font-weight="bold">Cr <tspan font-style="italic">L</tspan>-edge</text>
<text transform="translate(222.2,401.7) scale(1.005,1.01)" font-size="12.9" font-family="Liberation Serif, serif" font-weight="bold">Mn <tspan font-style="italic">L</tspan>-edge</text>
<text transform="translate(408.5,399.1) scale(1.005,1.01)" font-size="12.9" font-family="Liberation Serif, serif" font-weight="bold">Fe <tspan font-style="italic">L</tspan>-edge</text>
<text transform="translate(592.2,397.1) scale(1.005,1.01)" font-size="12.9" font-family="Liberation Serif, serif" font-weight="bold">Co <tspan font-style="italic">L</tspan>-edge</text>
<text x="59.9" y="427.6" font-size="12.3" font-family="Liberation Sans, sans-serif" font-weight="bold" >Cr</text>
<text x="73.8" y="420.6" font-size="7.5" font-family="Liberation Sans, sans-serif" font-weight="bold" >3+</text>
<text x="227.7" y="435" font-size="12.3" font-family="Liberation Sans, sans-serif" font-weight="bold" >Mn</text>
<text x="245.7" y="428.1" font-size="7.5" font-family="Liberation Sans, sans-serif" font-weight="bold" >2+</text>
<text x="444.3" y="432.3" font-size="12.3" font-family="Liberation Sans, sans-serif" font-weight="bold" >Fe</text>
<text x="458.9" y="426.2" font-size="7.5" font-family="Liberation Sans, sans-serif" font-weight="bold" >3+</text>
<text x="639.3" y="434.4" font-size="12.3" font-family="Liberation Sans, sans-serif" font-weight="bold" >Co</text>
<text x="655.7" y="427.5" font-size="7.5" font-family="Liberation Sans, sans-serif" font-weight="bold" >3+</text>
<text x="70.5" y="307.9" font-size="12.3" font-family="Liberation Sans, sans-serif" font-weight="bold" >SnO</text>
<text x="96.1" y="313.5" font-size="8" font-family="Liberation Sans, sans-serif" font-weight="bold" >2</text>
<text x="267.6" y="310.2" font-size="12.3" font-family="Liberation Sans, sans-serif" font-weight="bold" >SnO</text>
<text x="293.2" y="315.8" font-size="8" font-family="Liberation Sans, sans-serif" font-weight="bold" >2</text>
<text x="62" y="158.8" font-size="12.3" font-family="Liberation Sans, sans-serif" font-weight="bold" >M</text>
<text x="72.5" y="164.5" font-size="6.9" font-family="Liberation Sans, sans-serif" font-weight="bold" >5</text>
<text x="80.2" y="158.8" font-size="12.3" font-family="Liberation Sans, sans-serif" font-weight="bold" >(</text>
<text x="84.6" y="158.8" font-size="12.3" font-family="Liberation Sans, sans-serif" font-weight="bold" >3</text>
<text x="92.2" y="158.8" font-size="12.3" font-family="Liberation Sans, sans-serif" font-weight="bold" font-style="italic">d</text>
<text x="99.3" y="164.5" font-size="6.9" font-family="Liberation Sans, sans-serif" font-weight="bold" >5/2</text>
<text x="109.6" y="158.8" font-size="12.3" font-family="Liberation Sans, sans-serif" font-weight="bold" >)</text>
<text x="124.4" y="157.8" font-size="12.3" font-family="Liberation Sans, sans-serif" font-weight="bold" >M</text>
<text x="134.9" y="163.5" font-size="6.9" font-family="Liberation Sans, sans-serif" font-weight="bold" >5</text>
<text x="142.6" y="157.8" font-size="12.3" font-family="Liberation Sans, sans-serif" font-weight="bold" >(</text>
<text x="147" y="157.8" font-size="12.3" font-family="Liberation Sans, sans-serif" font-weight="bold" >3</text>
<text x="154.6" y="157.8" font-size="12.3" font-family="Liberation Sans, sans-serif" font-weight="bold" font-style="italic">d</text>
<text x="161.7" y="163.5" font-size="6.9" font-family="Liberation Sans, sans-serif" font-weight="bold" >3/2</text>
<text x="172" y="157.8" font-size="12.3" font-family="Liberation Sans, sans-serif" font-weight="bold" >)</text>
<text transform="translate(300,573.6) scale(1.004,1.040)" font-size="23.5" font-family="Liberation Serif, serif" font-weight="bold" >Photon Energy (eV)</text>
<text transform="translate(17.3,382.6) rotate(-90)" font-size="20.7" font-family="Liberation Serif, serif" font-weight="bold">Optical Intensity (a.u.)</text>
</g>
</svg>
</body></html>
